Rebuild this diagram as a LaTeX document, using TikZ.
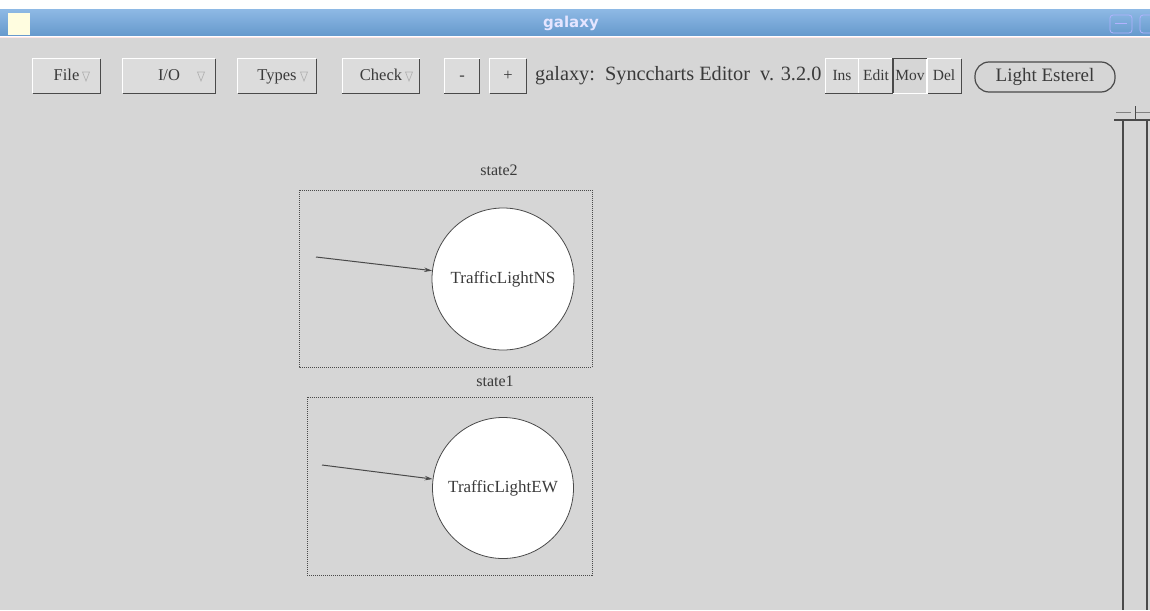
\documentclass[tikz,border=0pt]{standalone}
\usepackage{fontspec}
\setmainfont{Liberation Serif}
\newfontfamily\titlefont{DejaVu Sans}
\usetikzlibrary{arrows.meta}
\definecolor{bodygray}{HTML}{D6D6D6}
\definecolor{btngray}{HTML}{DCDCDC}
\definecolor{titleblue}{HTML}{6699CC}
\definecolor{titletop}{HTML}{8DB8E4}
\definecolor{darkline}{HTML}{4A4A4A}
\definecolor{txtgray}{HTML}{3A3A3A}
\tikzset{
  px/.style={x=1pt,y=-1pt},
  btn/.style={draw=none,fill=btngray,inner sep=0pt,font=\fontsize{16.5}{16.5}\selectfont,text=txtgray,text height=11pt,text depth=3pt},
  modebtn/.style={btn,font=\fontsize{15.5}{15.5}\selectfont},
  statebox/.style={draw=darkline,densely dotted,line width=1pt},
  stcircle/.style={circle,draw=darkline,fill=white,line width=0.8pt,inner sep=0pt,font=\fontsize{17}{17}\selectfont,text=txtgray},
  stlabel/.style={font=\fontsize{16}{16}\selectfont,text=txtgray},
  initarrow/.style={draw=darkline,line width=1pt,-{Stealth[length=8pt,width=4.5pt]}},
  tri/.style={draw=gray!60,line width=0.7pt},
}
\newcommand{\btnshadow}[1]{%
  \draw[white,line width=1pt] (#1.south west) -- (#1.north west) -- (#1.north east);
  \draw[darkline,line width=1.4pt] (#1.north east) -- (#1.south east) -- (#1.south west);
}
\begin{document}
\begin{tikzpicture}[px]
\useasboundingbox (0,0) rectangle (1150,610);
\fill[white] (0,0) rectangle (1150,610);
% body
\fill[bodygray] (0,37) rectangle (1150,610);
\draw[pink!40!white,line width=1pt] (0,37.5) -- (1150,37.5);
% title bar
\shade[top color=titletop,bottom color=titleblue] (0,10) rectangle (1150,36);
\node[font=\titlefont\bfseries\fontsize{15}{15}\selectfont,text=white!90!blue] (title) at (571,23) {galaxy};
\fill[white!88!yellow] (8,13) rectangle (30,35);
\draw[white!70!blue,line width=0.8pt,rounded corners=3pt] (1110,15) rectangle (1132,33);
\draw[white!70!blue,line width=1pt] (1115,24) -- (1127,24);
\draw[white!70!blue,line width=0.8pt,rounded corners=3pt] (1140,15) rectangle (1156,33);

% menu buttons
\node[btn,minimum width=67pt,minimum height=34pt] (file) at (66.5,76) {File\hspace{14pt}};
\node[btn,minimum width=92pt,minimum height=34pt] (io) at (169,76) {I/O\hspace{8pt}};
\node[btn,minimum width=78pt,minimum height=34pt] (types) at (277,76) {Types\hspace{10pt}};
\node[btn,minimum width=77pt,minimum height=34pt] (check) at (381,76) {Check\hspace{12pt}};
\node[btn,minimum width=35pt,minimum height=34pt] (minus) at (462,76) {-};
\node[btn,minimum width=36pt,minimum height=34pt] (plus) at (508,76) {+};
\foreach \b in {file,io,types,check,minus,plus} {\btnshadow{\b}}
% triangles
\foreach \x in {86,201,304,409} {
  \draw[tri] (\x-3.5,72) -- (\x+3.5,72) -- (\x,81) -- cycle;
}
\node[anchor=west,font=\fontsize{20.3}{20.3}\selectfont,text=txtgray,inner sep=0pt] (caption) at (535,76) {galaxy:\ \ Synccharts Editor\ \ v. 3.2.0};
% mode buttons
\node[modebtn,minimum width=33pt,minimum height=34pt] (ins) at (842,76) {Ins};
\node[modebtn,minimum width=35pt,minimum height=34pt] (edit) at (876,76) {Edit};
\node[modebtn,minimum width=34pt,minimum height=34pt,fill=bodygray] (mov) at (910,76) {Mov};
\node[modebtn,minimum width=34pt,minimum height=34pt] (del) at (944,76) {Del};
\foreach \b in {ins,edit,del} {\btnshadow{\b}}
\draw[darkline,line width=1.4pt] (mov.south west) -- (mov.north west) -- (mov.north east);
\draw[white,line width=1pt] (mov.north east) -- (mov.south east) -- (mov.south west);
% Light Esterel
\node[draw=darkline,line width=1.2pt,rounded corners=14pt,fill=bodygray,minimum width=140pt,minimum height=30pt,font=\fontsize{19}{19}\selectfont,text=txtgray] (light) at (1045,77) {Light Esterel};

% scrollbar
\draw[darkline,line width=1.8pt] (1123,120) -- (1123,610);
\draw[darkline,line width=1.8pt] (1147,120) -- (1147,610);
\draw[darkline,line width=1.2pt] (1114,120) -- (1150,120);
\draw[gray,line width=0.8pt] (1116,112) -- (1131,112) (1136,112) -- (1150,112);
\draw[darkline,line width=0.8pt] (1135,106) -- (1135,120);

% state2
\node[stlabel] (lbl2) at (499,170) {state2};
\draw[statebox] (299,190) rectangle (592,367);
\node[stcircle,minimum size=142pt] (ns) at (503,279) {TrafficLightNS};
\coordinate (init2) at (316,257);
\draw[initarrow] (init2) -- (ns);

% state1
\node[stlabel] (lbl1) at (495,381) {state1};
\draw[statebox] (307,397) rectangle (592,575);
\node[stcircle,minimum size=141pt] (ew) at (503,488) {TrafficLightEW};
\coordinate (init1) at (322,465);
\draw[initarrow] (init1) -- (ew);
\end{tikzpicture}
\end{document}
